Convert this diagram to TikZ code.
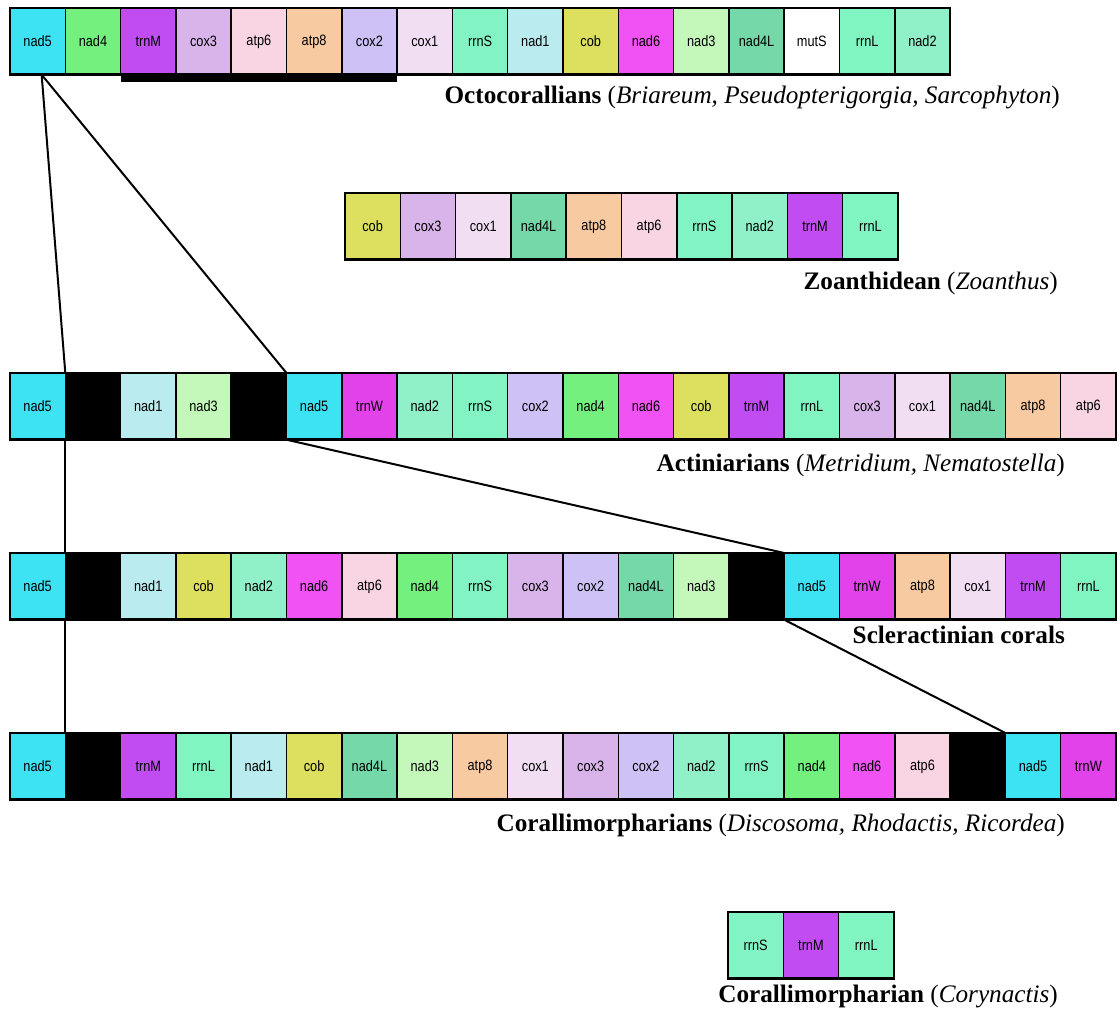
\documentclass[tikz,border=0pt]{standalone}
\usepackage{fontspec}
\setmainfont{Liberation Serif}
\newfontfamily\genefont[FakeStretch=0.85]{Liberation Sans}
\definecolor{cnad5}{HTML}{3DE3F3}
\definecolor{cnad4}{HTML}{74F07E}
\definecolor{ctrnM}{HTML}{C14DF2}
\definecolor{ccox3}{HTML}{D9B4EA}
\definecolor{catp6}{HTML}{F9D4E2}
\definecolor{catp8}{HTML}{F8CAA2}
\definecolor{ccox2}{HTML}{CEC1F5}
\definecolor{ccox1}{HTML}{F1DEF3}
\definecolor{crrnS}{HTML}{82F4C4}
\definecolor{cnad1}{HTML}{B9EBEF}
\definecolor{ccob}{HTML}{DCE05E}
\definecolor{cnad6}{HTML}{F052F3}
\definecolor{cnad3}{HTML}{C4F8BB}
\definecolor{cnad4L}{HTML}{74D8A9}
\definecolor{cmutS}{HTML}{FFFFFF}
\definecolor{crrnL}{HTML}{80F4C1}
\definecolor{cnad2}{HTML}{90F0C7}
\definecolor{ctrnW}{HTML}{E242EA}
\definecolor{cgap}{HTML}{000000}
\def\gapname{gap}
\tikzset{
  gene/.style={draw=black, line width=1.5pt, minimum width=55.3pt, minimum height=66.7pt,
    inner sep=0pt, outer sep=0pt, anchor=north west, font={\genefont\fontsize{15}{18}\selectfont}},
  rowframe/.style={draw=black, line width=2.5pt},
  link/.style={draw=black, line width=2pt},
  taxon/.style={anchor=base east, inner sep=0pt, font={\fontsize{25.2}{30}\selectfont}}
}
\newcommand\generow[4]{%
  \foreach \g [count=\i] in {#4}{%
    \edef\gcur{\g}%
    \node[gene, fill=c\g] (#1\i) at ({#2+(\i-1)*55.3}, #3) {\ifx\gcur\gapname\else\g\fi};
  }%
}
\begin{document}
\begin{tikzpicture}[x=1pt,y=-1pt]
\useasboundingbox (0,0) rectangle (1120,1013);
% Octocorallians
\generow{o}{10}{8}{nad5,nad4,trnM,cox3,atp6,atp8,cox2,cox1,rrnS,nad1,cob,nad6,nad3,nad4L,mutS,rrnL,nad2}
\draw[rowframe] (o1.north west) rectangle (o17.south east);
\fill[black] (o3.south west) rectangle ([yshift=-7pt]o7.south east);
\node[taxon] (lo) at (1060,103) {\textbf{Octocorallians} (\textit{Briareum, Pseudopterigorgia, Sarcophyton})};
% Zoanthidean
\generow{z}{345}{193}{cob,cox3,cox1,nad4L,atp8,atp6,rrnS,nad2,trnM,rrnL}
\draw[rowframe] (z1.north west) rectangle (z10.south east);
\node[taxon] (lz) at (1058,289) {\textbf{Zoanthidean} (\textit{Zoanthus})};
% Actiniarians
\generow{a}{10}{373}{nad5,gap,nad1,nad3,gap,nad5,trnW,nad2,rrnS,cox2,nad4,nad6,cob,trnM,rrnL,cox3,cox1,nad4L,atp8,atp6}
\draw[rowframe] (a1.north west) rectangle (a20.south east);
\node[taxon] (la) at (1065,471) {\textbf{Actiniarians} (\textit{Metridium, Nematostella})};
% Scleractinian
\generow{s}{10}{553}{nad5,gap,nad1,cob,nad2,nad6,atp6,nad4,rrnS,cox3,cox2,nad4L,nad3,gap,nad5,trnW,atp8,cox1,trnM,rrnL}
\draw[rowframe] (s1.north west) rectangle (s20.south east);
\node[taxon] (ls) at (1065,643) {\textbf{Scleractinian corals}};
% Corallimorpharians
\generow{c}{10}{733}{nad5,gap,trnM,rrnL,nad1,cob,nad4L,nad3,atp8,cox1,cox3,cox2,nad2,rrnS,nad4,nad6,atp6,gap,nad5,trnW}
\draw[rowframe] (c1.north west) rectangle (c20.south east);
\node[taxon] (lc) at (1065,831) {\textbf{Corallimorpharians} (\textit{Discosoma, Rhodactis, Ricordea})};
% Corynactis
\generow{k}{728}{912}{rrnS,trnM,rrnL}
\draw[rowframe] (k1.north west) rectangle (k3.south east);
\node[taxon] (lk) at (1058,1002) {\textbf{Corallimorpharian} (\textit{Corynactis})};
% connectors
\coordinate (ostart) at ([xshift=4pt]o1.south);
\draw[link] (ostart) -- (a2.north west);
\draw[link] (ostart) -- (a6.north west);
\draw[link] (a2.south west) -- (s2.north west);
\draw[link] (a6.south west) -- (s15.north west);
\draw[link] (s2.south west) -- (c2.north west);
\draw[link] (s15.south west) -- (c19.north west);
\end{tikzpicture}
\end{document}
